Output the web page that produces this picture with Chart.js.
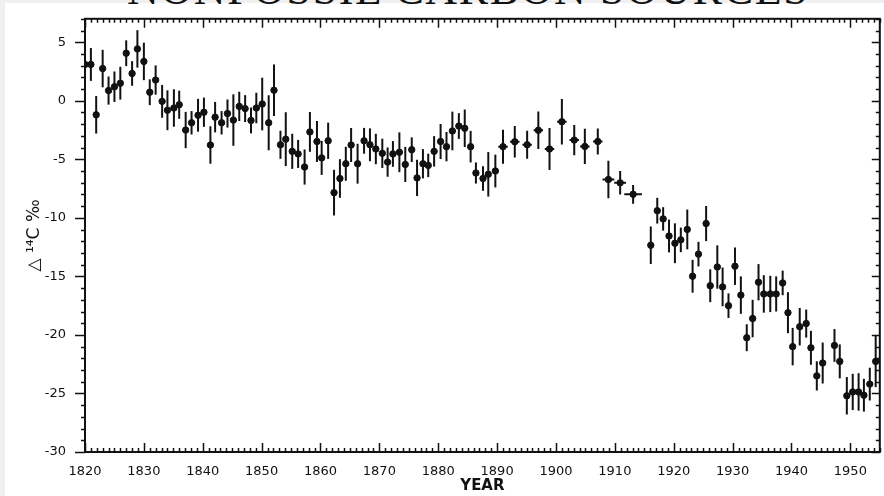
<!DOCTYPE html>
<html>
<head>
<meta charset="utf-8">
<script src="https://cdn.jsdelivr.net/npm/chart.js@4.4.1/dist/chart.umd.min.js"></script>
<style>
  html, body { margin: 0; padding: 0; background: #f0f0f0; overflow: hidden; }
  #wrap { position: relative; width: 884px; height: 496px; }
  #paper { position: absolute; left: 5px; top: 3px; width: 879px; height: 493px; background: #fff; }
  #head { position: absolute; left: 127px; top: -36px; font: 44px "Liberation Serif", serif; letter-spacing: 1.6px; color: #111; white-space: nowrap; }
  canvas { position: absolute; left: 0; top: 0; }
</style>
</head>
<body>
<div id="wrap">
  <div id="paper"></div>
  <div id="head">NONFOSSIL CARBON SOURCES</div>
  <canvas id="chart" width="884" height="496"></canvas>
</div>
<script>
// tree-ring D14C values
var years = [1820.0,1821.0,1821.9,1823.0,1824.0,1825.0,1826.0,1827.0,1828.0,1828.9,
  1830.0,1831.0,1832.0,1833.1,1834.0,1835.1,1836.0,1837.1,1838.1,1839.2,
  1840.2,1841.3,1842.1,1843.2,1844.2,1845.2,1846.2,1847.2,1848.2,1849.1,
  1850.1,1851.2,1852.1,1853.2,1854.1,1855.2,1856.2,1857.3,1858.2,1859.4,
  1860.2,1861.3,1862.3,1863.3,1864.3,1865.2,1866.3,1867.4,1868.4,1869.4,
  1870.5,1871.4,1872.3,1873.4,1874.4,1875.5,1876.4,1877.4,1878.3,1879.3,
  1880.4,1881.4,1882.4,1883.5,1884.5,1885.5,1886.4,1887.6,1888.5,1889.7,
  1891.0,1893.0,1895.1,1897.0,1898.9,1901.0,1903.1,1904.9,1907.1,1908.9,1910.9,1913.1,
  1916.1,1917.2,1918.2,1919.2,1920.2,1921.2,1922.3,1923.2,1924.2,1925.5,
  1926.2,1927.4,1928.3,1929.3,1930.4,1931.4,1932.4,1933.4,1934.4,1935.3,
  1936.4,1937.4,1938.5,1939.4,1940.2,1941.4,1942.5,1943.3,1944.3,1945.3,
  1947.3,1948.2,1949.4,1950.4,1951.4,1952.3,1953.3,1954.3];

var delta14C = [3.1,3.1,-1.2,2.75,0.87,1.2,1.5,4.06,2.33,4.43,
  3.36,0.73,1.77,-0.05,-0.81,-0.62,-0.34,-2.5,-1.88,-1.24,
  -0.98,-3.78,-1.4,-1.88,-1.09,-1.65,-0.48,-0.67,-1.68,-0.62,
  -0.28,-1.88,0.9,-3.76,-3.28,-4.32,-4.54,-5.66,-2.66,-3.48,
  -4.88,-3.42,-7.85,-6.64,-5.38,-3.78,-5.38,-3.42,-3.76,-4.12,
  -4.49,-5.24,-4.54,-4.4,-5.44,-4.18,-6.59,-5.38,-5.52,-4.32,
  -3.48,-3.92,-2.58,-2.16,-2.35,-3.92,-6.17,-6.64,-6.28,-6.0,
  -3.92,-3.5,-3.76,-2.52,-4.12,-1.79,-3.36,-3.9,-3.48,-6.73,-7.01,-7.99,
  -12.34,-9.39,-10.09,-11.55,-12.17,-11.88,-10.99,-14.99,-13.1,-10.49,
  -15.8,-14.2,-15.9,-17.5,-14.13,-16.6,-20.24,-18.6,-15.5,-16.5,
  -16.5,-16.5,-15.56,-18.1,-21.0,-19.3,-19.03,-21.1,-23.5,-22.4,
  -20.9,-22.26,-25.2,-24.87,-24.87,-25.15,-24.2,-22.26];

// +/- error on delta14C
var deltaErr = [1.05,1.4,1.6,1.6,1.2,1.3,1.4,1.1,1.05,1.6,
  1.6,1.1,1.25,1.4,1.7,1.6,1.2,1.55,1.0,1.4,
  1.25,1.6,1.3,1.0,1.2,2.2,1.25,1.15,1.1,1.3,
  2.25,2.35,2.2,1.2,2.3,1.5,1.2,1.5,1.7,1.75,
  1.45,1.55,1.95,1.65,1.45,1.45,1.7,1.1,1.4,1.3,
  1.25,1.25,1.1,1.7,1.5,1.05,1.55,1.25,1.0,1.3,
  1.5,1.25,1.65,1.1,1.6,1.35,0.9,1.05,1.9,1.4,
  1.45,1.35,1.2,1.6,1.8,1.95,1.3,1.5,1.1,1.6,1.0,0.8,
  1.6,1.1,1.0,1.4,1.7,1.05,1.7,1.4,1.05,1.5,
  1.4,1.85,1.65,1.05,1.6,1.6,1.15,1.6,1.55,1.6,
  1.55,1.5,1.05,1.75,1.6,1.6,1.2,1.45,1.25,1.75,
  1.4,1.45,1.6,1.55,1.6,1.4,1.4,2.2];

// +/- years covered by multi-year samples
var yearErr = [0,0,0,0,0,0,0,0,0,0, 0,0,0,0,0,0,0,0,0,0,
  0,0,0,0,0,0,0,0,0,0, 0,0,0,0,0,0,0,0,0,0,
  0,0,0,0,0,0,0,0,0,0, 0,0,0,0,0,0,0,0,0,0,
  0,0,0,0,0,0,0,0,0,0,
  0.8,0.8,0.8,0.8,0.8,0.8,0.8,0.8,0.8,1.0,1.0,1.5,
  0,0,0,0,0,0,0,0,0,0, 0,0,0,0,0,0,0,0,0,0,
  0,0,0,0,0,0,0,0,0,0, 0,0,0,0,0,0,0,0];

var xTicks = [1820,1830,1840,1850,1860,1870,1880,1890,1900,1910,1920,1930,1940,1950];
var yTicks = [5,0,-5,-10,-15,-20,-25,-30];

var points = [];
for (var i = 0; i < years.length; i++) {
  points.push({ x: years[i], y: delta14C[i] });
}

var ink = '#111';

// error bars, drawn through the chart's scales
var errorBars = {
  id: 'errorBars',
  beforeDatasetsDraw: function (chart) {
    var ctx = chart.ctx, xs = chart.scales.x, ys = chart.scales.y;
    ctx.save();
    ctx.strokeStyle = ink;
    ctx.lineWidth = 2;
    for (var i = 0; i < years.length; i++) {
      var px = xs.getPixelForValue(years[i]);
      var py = ys.getPixelForValue(delta14C[i]);
      ctx.beginPath();
      ctx.moveTo(px, ys.getPixelForValue(delta14C[i] + deltaErr[i]));
      ctx.lineTo(px, ys.getPixelForValue(delta14C[i] - deltaErr[i]));
      if (yearErr[i] > 0) {
        ctx.moveTo(xs.getPixelForValue(years[i] - yearErr[i]), py);
        ctx.lineTo(xs.getPixelForValue(years[i] + yearErr[i]), py);
      }
      ctx.stroke();
    }
    ctx.restore();
  }
};

// frame with minor ticks: bottom/top/right inward, left outward
var frame = {
  id: 'frame',
  afterDraw: function (chart) {
    var ctx = chart.ctx, a = chart.chartArea, xs = chart.scales.x, ys = chart.scales.y;
    ctx.save();
    ctx.strokeStyle = ink;
    ctx.lineWidth = 2;
    ctx.strokeRect(a.left, a.top, a.right - a.left, a.bottom - a.top);
    ctx.lineWidth = 1.5;
    ctx.beginPath();
    for (var yr = 1820; yr <= 1955; yr++) {
      var px = Math.round(xs.getPixelForValue(yr)) + 0.5;
      var len = (yr % 10 === 0) ? 9 : 4;
      ctx.moveTo(px, a.bottom); ctx.lineTo(px, a.bottom - len);
      ctx.moveTo(px, a.top); ctx.lineTo(px, a.top + len);
    }
    for (var v = -30; v <= 7; v++) {
      var py = Math.round(ys.getPixelForValue(v)) + 0.5;
      var major = (v % 5 === 0);
      ctx.moveTo(a.left, py); ctx.lineTo(a.left - (major ? 10 : 4), py);
      ctx.moveTo(a.right, py); ctx.lineTo(a.right - (major ? 8 : 4), py);
    }
    ctx.stroke();
    ctx.restore();
  }
};

new Chart(document.getElementById('chart'), {
  type: 'scatter',
  data: {
    datasets: [{
      data: points,
      backgroundColor: ink,
      borderColor: ink,
      pointRadius: 3.2,
      pointHoverRadius: 3.2
    }]
  },
  options: {
    responsive: false,
    animation: false,
    layout: { padding: { top: 12, right: 1, left: 0, bottom: 0 } },
    plugins: { legend: { display: false }, tooltip: { enabled: false } },
    scales: {
      x: {
        type: 'linear', min: 1820, max: 1955,
        afterFit: function (s) { s.height = 44; },
        afterBuildTicks: function (s) { s.ticks = xTicks.map(function (v) { return { value: v }; }); },
        grid: { display: false },
        border: { display: false },
        ticks: { padding: 4, color: ink, font: { family: 'DejaVu Sans', size: 13 }, maxRotation: 0,
                 callback: function (v) { return String(v); } },
        title: { display: true, text: 'YEAR', color: ink, padding: { top: 0, bottom: 1 },
                 font: { family: 'DejaVu Sans', size: 15, weight: 'bold' } }
      },
      y: {
        type: 'linear', min: -30, max: 7,
        afterFit: function (s) { s.width = 85; },
        afterBuildTicks: function (s) { s.ticks = yTicks.map(function (v) { return { value: v }; }); },
        grid: { display: false },
        border: { display: false },
        ticks: { padding: 11, color: ink, font: { family: 'DejaVu Sans', size: 13 },
                 callback: function (v) { return String(v); } },
        title: { display: true, text: '△ ¹⁴C ‰', color: ink, padding: { top: 24, bottom: 0 },
                 font: { family: 'DejaVu Sans', size: 17 } }
      }
    }
  },
  plugins: [errorBars, frame]
});
</script>
</body>
</html>
